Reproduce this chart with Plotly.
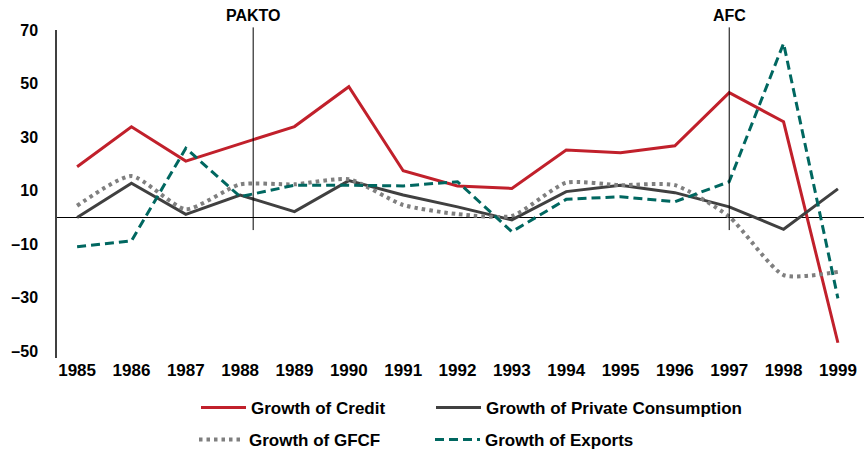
import plotly.graph_objects as go

years = list(range(1985, 2000))
credit = [19.0, 33.9, 21.1, 27.7, 34.0, 48.9, 17.5, 11.8, 10.9, 25.2, 24.2, 26.8, 46.7, 35.8, -46.8]
private_cons = [0.0, 12.8, 1.2, 8.4, 2.2, 13.8, 8.4, 4.0, -0.9, 9.7, 12.1, 9.3, 4.0, -4.4, 10.7]
gfcf = [4.4, 15.5, 3.1, 12.4, 12.4, 14.3, 4.7, 1.3, 0.6, 13.0, 12.1, 12.1, 0.3, -21.5, -20.3]
exports = [-10.9, -8.7, 25.9, 7.8, 12.1, 12.1, 11.8, 13.4, -5.3, 6.8, 7.8, 5.9, 13.4, 65.1, -30.2]

y_ticks = [70, 50, 30, 10, -10, -30, -50]
y_tick_text = ["70", "50", "30", "10", "\u201310", "\u201330", "\u201350"]

event_names = ["PAKTO", "AFC"]
event_years = [1988.24, 1997.0]

FONT = "Liberation Sans, Arial, sans-serif"
LFONT = dict(family=FONT, size=17, color="black", weight="bold")

fig = go.Figure()
fig.add_trace(go.Scatter(x=years, y=credit, mode="lines", name="Growth of Credit", showlegend=True,
                         line=dict(color="#C1202B", width=3), legend="legend"))
fig.add_trace(go.Scatter(x=years, y=private_cons, mode="lines", name="Growth of Private Consumption",
                         showlegend=True, line=dict(color="#404040", width=3), legend="legend2"))
fig.add_trace(go.Scatter(x=years, y=gfcf, mode="lines", name="Growth of GFCF", showlegend=True,
                         line=dict(color="#7F7F7F", width=4, dash="3.5px,4px", shape="spline", smoothing=0.6),
                         legend="legend3"))
fig.add_trace(go.Scatter(x=years, y=exports, mode="lines", name="Growth of Exports", showlegend=True,
                         line=dict(color="#006760", width=3, dash="9px,5px"), legend="legend4"))

for name, xv in zip(event_names, event_years):
    fig.add_shape(type="line", xref="x", yref="paper", x0=xv, x1=xv, y0=0.39, y1=1.008,
                  line=dict(color="black", width=1))
    fig.add_annotation(x=xv, xref="x", y=1.012, yref="paper", text=name, showarrow=False,
                       yanchor="bottom", font=dict(family=FONT, size=16, color="black", weight="bold"))

PLOT_L, PLOT_W = 57, 807


def legend_box(px, py):
    return dict(orientation="h", x=(px - PLOT_L) / PLOT_W, y=py, xanchor="left", yanchor="middle",
                itemwidth=45, font=LFONT, bgcolor="rgba(0,0,0,0)", visible=True)


fig.update_layout(
    width=864, height=449,
    showlegend=True,
    margin=dict(l=57, r=0, t=30, b=91, autoexpand=False),
    paper_bgcolor="white", plot_bgcolor="white",
    font=dict(family=FONT, color="black"),
    xaxis=dict(range=[1984.63, 1999.48], tickmode="array", tickvals=years, automargin=False,
               ticktext=[str(y) for y in years], showgrid=False, zeroline=False,
               showline=False, ticks="", tickfont=dict(family=FONT, size=17, color="black", weight="bold")),
    yaxis=dict(range=[-52.5, 70.1], tickmode="array", tickvals=y_ticks, ticktext=y_tick_text,
               automargin=False,
               showgrid=False, zeroline=True, zerolinecolor="black", zerolinewidth=1,
               showline=True, linecolor="#404040", linewidth=1.5, ticks="",
               ticklabelstandoff=14,
               tickfont=dict(family=FONT, size=16, color="black", weight="bold")),
    legend=legend_box(196, -0.152),
    legend2=legend_box(431, -0.152),
    legend3=legend_box(194, -0.25),
    legend4=legend_box(430, -0.25),
)

fig.write_html("out.html", config={"displayModeBar": False},
               post_script="document.body.style.margin='0';")
